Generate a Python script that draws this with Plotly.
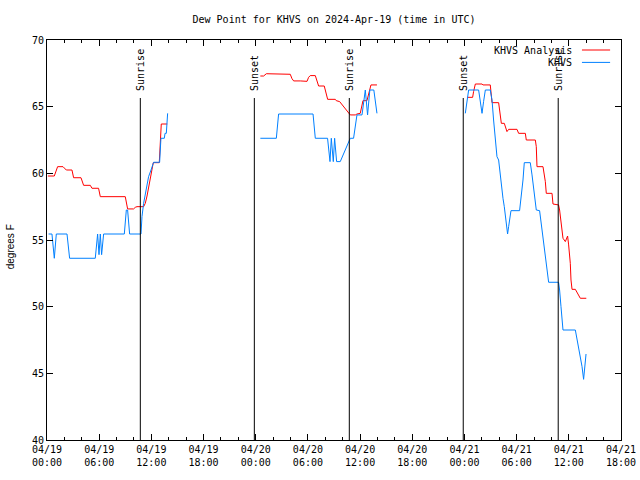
import pandas as pd
import plotly.graph_objects as go

START = "2024-04-19 00:00"

# ---- data: hours since 2024-04-19 00:00 UTC, dew point (F); None = gap ----
analysis_hours = [
    0.1, 0.84, 1.22, 1.84, 2.22, 2.87, 3.06, 3.91, 4.21, 4.98, 5.17, 5.93, 6.13,
    9.0, 9.27, 9.96, 10.15, 10.35, 11.11, 11.3, 11.5, 11.7, 11.9, 12.1, 12.22,
    12.91, 13.05, 13.14, 13.83,
    None,
    24.53, 24.91, 25.22, 26.06, 26.25, 27.97, 28.17, 28.36, 29.12, 29.9, 30.08,
    30.27, 30.85, 31.04, 31.23, 31.88, 32.11, 32.27, 33.15, 33.26, 33.65, 33.8,
    34.03, 34.41, 34.68, 34.87, 35.45, 35.64, 36.02, 36.22, 36.33, 36.79, 36.98,
    37.25, 37.94,
    None,
    48.29, 48.94, 49.05, 49.25, 50.02, 50.13, 50.97, 51.17, 51.93, 52.12, 52.24,
    52.58, 52.89, 53.08, 54.04, 54.23, 55.0, 55.11, 56.15, 56.26, 56.34, 57.03,
    57.1, 57.3, 57.41, 58.07, 58.18, 58.82, 58.94, 59.22, 59.33, 59.6, 59.86,
    59.98, 60.17, 60.25, 60.37, 60.75, 60.94, 61.24, 61.32, 62.01,
]
analysis_dewpt = [
    59.8, 59.8, 60.5, 60.5, 60.25, 60.25, 59.67, 59.67, 59.1, 59.1, 58.88, 58.88, 58.25,
    58.25, 57.33, 57.33, 57.45, 57.5, 57.5, 57.75, 58.3, 59.0, 59.7, 60.3, 60.8,
    60.8, 62.5, 63.7, 63.7,
    None,
    67.3, 67.3, 67.47, 67.47, 67.43, 67.43, 67.1, 66.93, 66.93, 66.9, 67.2,
    67.33, 67.33, 66.95, 66.55, 66.55, 65.95, 65.55, 65.55, 65.45, 65.38, 65.25,
    65.05, 64.8, 64.55, 64.38, 64.38, 64.45, 64.5, 65.0, 65.45, 65.45, 66.0,
    66.63, 66.63,
    None,
    65.7, 65.7, 66.13, 66.7, 66.7, 66.63, 66.63, 65.3, 65.3, 64.5, 63.75,
    63.75, 63.13, 63.3, 63.3, 63.0, 63.0, 62.5, 62.5, 62.0, 60.5, 60.5,
    60.25, 59.38, 58.5, 58.5, 57.7, 57.63, 57.25, 55.63, 55.13, 54.88, 55.3,
    54.63, 53.25, 52.0, 51.3, 51.3, 51.05, 50.75, 50.63, 50.63,
]

obs_hours = [
    0.18, 0.57, 0.84, 1.07, 2.3, 2.6, 5.55, 5.82, 5.98, 6.13, 6.28, 6.51,
    8.89, 9.12, 9.27, 9.5, 10.81, 10.92, 11.11, 11.3, 11.5, 11.68, 11.96, 12.26,
    12.95, 13.03, 13.1, 13.49, 13.57, 13.72, 13.87,
    None,
    24.53, 26.37, 26.63, 30.59, 30.85, 32.26, 32.54, 32.69, 32.92, 33.07, 33.3,
    33.72, 34.87, 35.25, 35.64, 36.22, 36.6, 36.86, 37.12, 37.58, 37.94,
    None,
    48.1, 48.48, 49.63, 49.82, 50.02, 50.2, 50.4, 50.97, 51.17, 51.35, 51.55,
    51.74, 51.93, 52.04, 52.2, 52.32, 52.43, 52.58, 52.7, 52.81, 52.96, 53.08,
    53.2, 53.35, 54.34, 54.5, 54.62, 54.73, 54.88, 55.57, 55.77, 55.95, 56.15,
    56.26, 56.64, 56.8, 56.95, 57.1, 57.3, 57.49, 57.68, 58.82, 58.94, 59.1,
    59.22, 59.33, 60.75, 60.94, 61.13, 61.32, 61.52, 61.7, 61.82, 61.98,
]
obs_dewpt = [
    55.45, 55.45, 53.63, 55.45, 55.45, 53.63, 53.63, 55.45, 53.9, 55.45, 53.9, 55.45,
    55.45, 57.25, 57.25, 55.45, 55.45, 56.75, 57.75, 58.5, 59.25, 59.75, 60.25, 60.83,
    60.83, 62.25, 62.63, 62.63, 63.0, 63.0, 64.5,
    None,
    62.63, 62.63, 64.45, 64.45, 62.63, 62.63, 60.88, 62.63, 60.88, 62.63, 60.88,
    60.88, 62.63, 62.63, 64.38, 64.38, 66.25, 64.38, 66.25, 66.25, 64.5,
    None,
    64.5, 66.25, 66.25, 65.38, 64.5, 65.38, 66.25, 66.25, 65.5, 64.0, 62.5,
    61.25, 61.0, 60.25, 59.5, 58.75, 58.13, 57.5, 56.88, 56.25, 55.45, 56.0,
    56.75, 57.2, 57.2, 58.13, 58.75, 59.5, 60.8, 60.8, 59.88, 59.0, 58.13,
    57.25, 57.2, 56.38, 55.5, 54.5, 53.75, 52.75, 51.83, 51.83, 51.25, 50.0,
    48.88, 48.25, 48.25, 47.63, 47.0, 46.25, 45.5, 44.55, 45.5, 46.45,
]

event_hours = [10.73, 23.84, 34.76, 47.86, 58.78]
event_labels = ["Sunrise", "Sunset", "Sunrise", "Sunset", "Sunrise"]
event_line_top = 65.65

series_names = ["KHVS Analysis", "KHVS"]
series_colors = ["#ff0000", "#0080ff"]

t0 = pd.Timestamp(START)


def to_time(hours):
    return [None if h is None else t0 + pd.Timedelta(hours=h) for h in hours]


MONO = "DejaVu Sans Mono"

fig = go.Figure()
fig.add_trace(go.Scatter(x=to_time(analysis_hours), y=analysis_dewpt, mode="lines",
                         line=dict(color=series_colors[0], width=1),
                         connectgaps=False, showlegend=False))
fig.add_trace(go.Scatter(x=to_time(obs_hours), y=obs_dewpt, mode="lines",
                         line=dict(color=series_colors[1], width=1),
                         connectgaps=False, showlegend=False))

for t, lab in zip(to_time(event_hours), event_labels):
    fig.add_shape(type="line", xref="x", yref="y", x0=t, x1=t, y0=40, y1=event_line_top,
                  line=dict(color="black", width=1))
    fig.add_annotation(x=t, y=66.05, xref="x", yref="y", text=lab, textangle=-90,
                       showarrow=False, xanchor="center", yanchor="bottom",
                       font=dict(family=MONO, size=10, color="black"))

# manual legend (text left of line sample, gnuplot style)
for i, (name, col) in enumerate(zip(series_names, series_colors)):
    yy = 0.975 - i * 0.031
    fig.add_annotation(x=0.9186, y=yy, xref="paper", yref="paper", text=name,
                       showarrow=False, xanchor="right", yanchor="middle",
                       font=dict(family=MONO, size=10, color="black"))
    fig.add_shape(type="line", xref="paper", yref="paper", x0=0.932, x1=0.981,
                  y0=yy, y1=yy, line=dict(color=col, width=1))

fig.add_annotation(x=-0.064, y=0.4825, xref="paper", yref="paper", text="degrees F",
                   textangle=-90, showarrow=False, xanchor="center", yanchor="middle",
                   font=dict(family="Liberation Sans", size=10, color="black"))

fig.update_layout(
    width=640, height=480,
    margin=dict(l=47, r=19, t=40, b=40, autoexpand=False),
    paper_bgcolor="white", plot_bgcolor="white",
    title=dict(text="Dew Point for KHVS on 2024-Apr-19 (time in UTC)",
               x=0.5, xref="paper", y=1 - 19 / 480, yanchor="middle",
               font=dict(family=MONO, size=10, color="black")),
    showlegend=False,
)
fig.update_xaxes(
    type="date", range=["2024-04-19 00:00", "2024-04-21 18:00"],
    tick0="2024-04-19 00:00", dtick=6 * 3600 * 1000, tickformat="%m/%d<br>%H:%M",
    ticks="inside", ticklen=6, tickcolor="black", mirror="allticks",
    showline=True, linecolor="black", linewidth=1, showgrid=False, zeroline=False,
    automargin=False,
    minor=dict(dtick=2 * 3600 * 1000, tick0="2024-04-19 00:00", ticks="inside",
               ticklen=3, tickcolor="black", showgrid=False),
    tickfont=dict(family=MONO, size=10, color="black"),
)
fig.update_yaxes(
    range=[40, 70], dtick=5, tick0=40,
    ticks="inside", ticklen=6, tickcolor="black", mirror="allticks",
    showline=True, linecolor="black", linewidth=1, showgrid=False, zeroline=False,
    automargin=False,
    tickfont=dict(family=MONO, size=10, color="black"),
)

fig.write_html("out.html", config={"displayModeBar": False},
               post_script="document.body.style.margin='0px';")
